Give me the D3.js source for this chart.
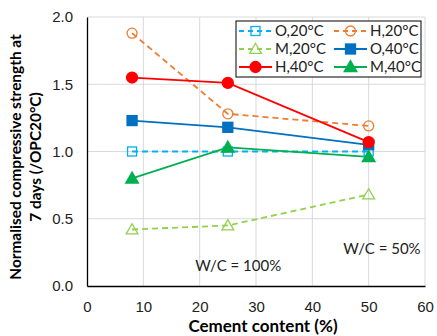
<!DOCTYPE html>
<html lang="en">
<head>
  <meta charset="UTF-8">
  <title>Normalised compressive strength</title>
  <script src="https://d3js.org/d3.v7.min.js"></script>
  <style>
    body { margin: 0; background: #fff; }
    svg { display: block; font-family: Lato, "Noto Sans", sans-serif; }
    .grid line { stroke: #d9d9d9; stroke-width: 1; }
    .tick text { font-size: 15px; fill: #222; }
  </style>
</head>
<body>
  <svg width="437" height="336"></svg>

  <script>
    // cement content (%)
    const cement = [8, 25, 50];

    const o20 = [1.00, 1.00, 1.00],
          h20 = [1.88, 1.28, 1.19],
          m20 = [0.42, 0.45, 0.68],
          o40 = [1.23, 1.18, 1.05],
          h40 = [1.55, 1.51, 1.07],
          m40 = [0.80, 1.03, 0.96];

    const xTicks = [0, 10, 20, 30, 40, 50, 60],
          yTicks = [0, 0.5, 1.0, 1.5, 2.0];

    const series = [
      { name: "O,20°C", values: o20, color: "#00b0f0", dash: "6,4", shape: "square",   filled: false },
      { name: "H,20°C", values: h20, color: "#ed7d31", dash: "6,4", shape: "circle",   filled: false },
      { name: "M,20°C", values: m20, color: "#92d050", dash: "6,4", shape: "triangle", filled: false },
      { name: "O,40°C", values: o40, color: "#0070c0", dash: null,  shape: "square",   filled: true },
      { name: "H,40°C", values: h40, color: "#ff0000", dash: null,  shape: "circle",   filled: true },
      { name: "M,40°C", values: m40, color: "#00b050", dash: null,  shape: "triangle", filled: true }
    ];

    const svg = d3.select("svg");
    const margin = { top: 17, right: 12, bottom: 50, left: 87 },
          width  = 437 - margin.left - margin.right,
          height = 336 - margin.top - margin.bottom;

    const g = svg.append("g").attr("transform", `translate(${margin.left},${margin.top})`);

    const x = d3.scaleLinear().domain([0, 60]).range([0, width]);
    const y = d3.scaleLinear().domain([0, 2]).range([height, 0]);

    // gridlines
    const grid = g.append("g").attr("class", "grid");
    grid.selectAll("line.v").data(xTicks.slice(1)).join("line")
      .attr("x1", d => x(d)).attr("x2", d => x(d))
      .attr("y1", 0).attr("y2", height);
    grid.selectAll("line.h").data(yTicks.slice(1)).join("line")
      .attr("x1", 0).attr("x2", width)
      .attr("y1", d => y(d)).attr("y2", d => y(d));

    // axes
    const xAxis = g.append("g")
      .attr("transform", `translate(0,${height})`)
      .call(d3.axisBottom(x).tickValues(xTicks).tickSize(0).tickPadding(15));
    const yAxis = g.append("g")
      .call(d3.axisLeft(y).tickValues(yTicks).tickSize(0).tickPadding(14).tickFormat(d3.format(".1f")));
    xAxis.select(".domain").attr("stroke", "#000").attr("stroke-width", 1.3);
    yAxis.select(".domain").attr("stroke", "#000").attr("stroke-width", 1.3);

    // lines + markers
    const line = d3.line().x((d, i) => x(cement[i])).y(d => y(d));

    const tri = d3.symbol().type(d3.symbolTriangle);

    function marker(sel, s, cx, cy) {
      const fill = s.filled ? s.color : "none";
      if (s.shape === "square") {
        const a = s.filled ? 10 : 9;
        sel.append("rect")
          .attr("x", cx - a / 2).attr("y", cy - a / 2)
          .attr("width", a).attr("height", a)
          .attr("fill", fill).attr("stroke", s.color).attr("stroke-width", 1.3);
      } else if (s.shape === "circle") {
        sel.append("circle")
          .attr("cx", cx).attr("cy", cy).attr("r", s.filled ? 5.5 : 5)
          .attr("fill", fill).attr("stroke", s.color).attr("stroke-width", 1.3);
      } else {
        sel.append("path")
          .attr("d", tri.size(s.filled ? 70 : 60)())
          .attr("transform", `translate(${cx},${cy + 1})`)
          .attr("fill", fill).attr("stroke", s.color).attr("stroke-width", 1.3);
      }
    }

    series.forEach(s => {
      g.append("path")
        .datum(s.values)
        .attr("fill", "none")
        .attr("stroke", s.color)
        .attr("stroke-width", 1.8)
        .attr("stroke-dasharray", s.dash)
        .attr("d", line);
    });
    series.forEach(s => {
      const mg = g.append("g");
      s.values.forEach((v, i) => marker(mg, s, x(cement[i]), y(v)));
    });

    // annotations
    g.append("text").attr("x", x(19.2)).attr("y", y(0.11))
      .attr("font-size", 15).attr("fill", "#222").text("W/C = 100%");
    g.append("text").attr("x", x(45.5)).attr("y", y(0.24))
      .attr("font-size", 15).attr("fill", "#222").text("W/C = 50%");

    // legend
    const lg = svg.append("g").attr("transform", "translate(236,21)");
    lg.append("rect").attr("width", 185).attr("height", 56)
      .attr("fill", "#fff").attr("stroke", "#000").attr("stroke-width", 1);
    series.forEach((s, i) => {
      const col = i % 2, row = Math.floor(i / 2);
      const ox = col === 0 ? 3 : 98, oy = 10 + row * 18;
      const it = lg.append("g").attr("transform", `translate(${ox},${oy})`);
      it.append("line").attr("x1", 0).attr("x2", 33).attr("y1", 0).attr("y2", 0)
        .attr("stroke", s.color).attr("stroke-width", 1.8)
        .attr("stroke-dasharray", s.dash ? "5,4" : null);
      marker(it, s, 16.5, 0);
      it.append("text").attr("x", 36).attr("y", 0).attr("dy", "0.35em")
        .attr("font-size", 15).attr("fill", "#222").text(s.name);
    });

    // axis titles
    svg.append("text")
      .attr("transform", "translate(21,157) rotate(-90)")
      .attr("text-anchor", "middle").attr("font-size", 15.4).attr("font-weight", "bold")
      .text("Normalised compressive strength at");
    svg.append("text")
      .attr("transform", "translate(41,157) rotate(-90)")
      .attr("text-anchor", "middle").attr("font-size", 15.4).attr("font-weight", "bold")
      .text("7 days (/OPC20°C)");
    svg.append("text")
      .attr("x", 263).attr("y", 332)
      .attr("text-anchor", "middle").attr("font-size", 17).attr("font-weight", "bold")
      .text("Cement content (%)");
  </script>
</body>
</html>
